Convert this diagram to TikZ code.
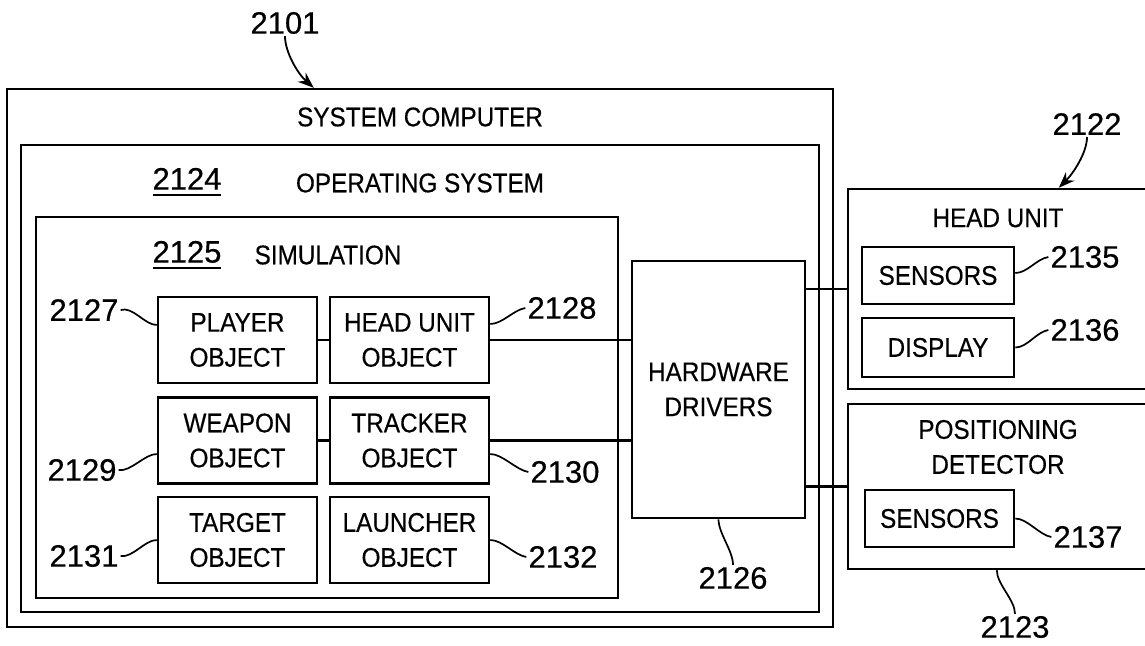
\documentclass[tikz,border=0pt]{standalone}
\usepackage{fontspec}
\setmainfont{Liberation Sans}
\newfontfamily\tallfont[FakeStretch=0.9,FakeBold=0.4]{Liberation Sans}
\newfontfamily\numfont[FakeBold=0.4]{Liberation Sans}
\usetikzlibrary{arrows.meta}

\newcommand\objfont{\tallfont\fontsize{27}{35}\selectfont}
\newcommand\reffont{\numfont\fontsize{31}{36}\selectfont}
% underlined reference number
\newcommand\refline[1]{\setbox0\hbox{#1}\rlap{\vrule width\wd0 height -4pt depth 6.5pt}\box0}

\begin{document}
\begin{tikzpicture}[x=1pt,y=-1pt,
    frame/.style={draw, line width=2.4pt, inner sep=0pt},
    objbox/.style={draw, line width=2.6pt, inner sep=0pt, align=center, font=\objfont,
                   minimum width=159pt, minimum height=86pt},
    smallbox/.style={draw, line width=2.6pt, inner sep=0pt, font=\objfont, minimum height=57pt},
    title/.style={font=\objfont, align=center, inner sep=0pt},
    refnum/.style={font=\reffont, inner sep=2pt},
    leader/.style={line width=1.7pt},
    link/.style={line width=2.4pt},
    pointer/.style={line width=1.8pt, -{Stealth[length=16pt,width=12pt]}}]

    \useasboundingbox (0,0) rectangle (1145,645);
    \clip (0,0) rectangle (1145,645);

    % Draw the System Computer, Operating System and Simulation frames
    \node[frame, minimum width=826pt, minimum height=538pt] (syscomp) at (420,358) {};
    \node[frame, minimum width=798pt, minimum height=467pt] (os) at (420,378.5) {};
    \node[frame, minimum width=582pt, minimum height=381pt] (sim) at (327,407.5) {};
    \node[title] (syscomp title) at (420,117) {SYSTEM COMPUTER};
    \node[title] (os title) at (420,183) {OPERATING SYSTEM};
    \node[title] (sim title) at (328,255) {SIMULATION};
    \node[refnum] (n2124) at (187,182) {\refline{2124}};
    \node[refnum] (n2125) at (187,255) {\refline{2125}};

    % Draw the simulation objects
    \node[objbox] (player) at (237.5,340) {PLAYER\\OBJECT};
    \node[objbox] (headobj) at (409.5,340) {HEAD UNIT\\OBJECT};
    \node[objbox] (weapon) at (237.5,440.5) {WEAPON\\OBJECT};
    \node[objbox] (tracker) at (409.5,440.5) {TRACKER\\OBJECT};
    \node[objbox] (target) at (237.5,540) {TARGET\\OBJECT};
    \node[objbox] (launcher) at (409.5,540) {LAUNCHER\\OBJECT};

    % Draw the Hardware Drivers
    \node[objbox, minimum width=173pt, minimum height=257pt] (hw) at (718.5,389.5) {HARDWARE\\DRIVERS};

    % Draw the Head Unit and the Positioning Detector
    \node[frame, minimum width=312pt, minimum height=200pt] (hu) at (1004,289) {};
    \node[frame, minimum width=312pt, minimum height=165pt] (pd) at (1004,486.5) {};
    \node[title] (hu title) at (998,218) {HEAD UNIT};
    \node[title] (pd title) at (998,447) {POSITIONING\\DETECTOR};
    \node[smallbox, minimum width=152pt] (husens) at (938,275.5) {SENSORS};
    \node[smallbox, minimum width=152pt, minimum height=59pt] (display) at (938,347.5) {DISPLAY};
    \node[smallbox, minimum width=149pt] (pdsens) at (939.5,518.5) {SENSORS};

    % Draw the links
    \draw[link] (player) -- (headobj);
    \draw[link] (weapon) -- (tracker);
    \draw[link] (headobj.east) -- (headobj.east -| hw.west);
    \draw[link] (tracker.east) -- (tracker.east -| hw.west);
    \draw[link] (hw.east |- hu.west) -- (hu.west);
    \draw[link] (hw.east |- pd.west) -- (pd.west);

    % Reference numbers
    \node[refnum] (n2101) at (285,23) {2101};
    \node[refnum] (n2122) at (1087,124) {2122};
    \node[refnum] (n2127) at (84,310) {2127};
    \node[refnum] (n2129) at (82,470) {2129};
    \node[refnum] (n2131) at (84,556) {2131};
    \node[refnum] (n2128) at (562,308) {2128};
    \node[refnum] (n2130) at (565,472) {2130};
    \node[refnum] (n2132) at (563,557) {2132};
    \node[refnum] (n2126) at (733,578) {2126};
    \node[refnum] (n2123) at (1015,627) {2123};
    \node[refnum] (n2135) at (1085,257) {2135};
    \node[refnum] (n2136) at (1085,330) {2136};
    \node[refnum] (n2137) at (1088,537) {2137};

    % Pointers and leaders
    \draw[pointer] (n2101.south) .. controls +(0,16) and +(-16,-14) .. ([xshift=308pt]syscomp.north west);
    \draw[pointer] (n2122.south) .. controls +(0,16) and +(14,-14) .. ([xshift=212pt]hu.north west);
    \draw[leader] (n2127.east) .. controls +(12,-4) and +(-12,0) .. ([yshift=15pt]player.west);
    \draw[leader] (n2129.east) .. controls +(12,2) and +(-12,0) .. ([yshift=-13.5pt]weapon.west);
    \draw[leader] (n2131.east) .. controls +(12,2) and +(-12,0) .. (target.west);
    \draw[leader] ([yshift=16pt]headobj.east) .. controls +(12,0) and +(-12,2) .. (n2128.west);
    \draw[leader] ([yshift=-13.5pt]tracker.east) .. controls +(12,0) and +(-12,-2) .. (n2130.west);
    \draw[leader] (launcher.east) .. controls +(12,0) and +(-12,-2) .. (n2132.west);
    \draw[leader] (hw.south) .. controls +(0,14) and +(0,-14) .. (n2126.north);
    \draw[leader] ([xshift=150pt]pd.south west) .. controls +(0,14) and +(0,-14) .. (n2123.north);
    \draw[leader] ([yshift=2.5pt]husens.east) .. controls +(12,0) and +(-12,2) .. (n2135.west);
    \draw[leader] (display.east) .. controls +(12,0) and +(-12,2) .. (n2136.west);
    \draw[leader] (pdsens.east) .. controls +(12,0) and +(-12,-2) .. (n2137.west);

\end{tikzpicture}
\end{document}
